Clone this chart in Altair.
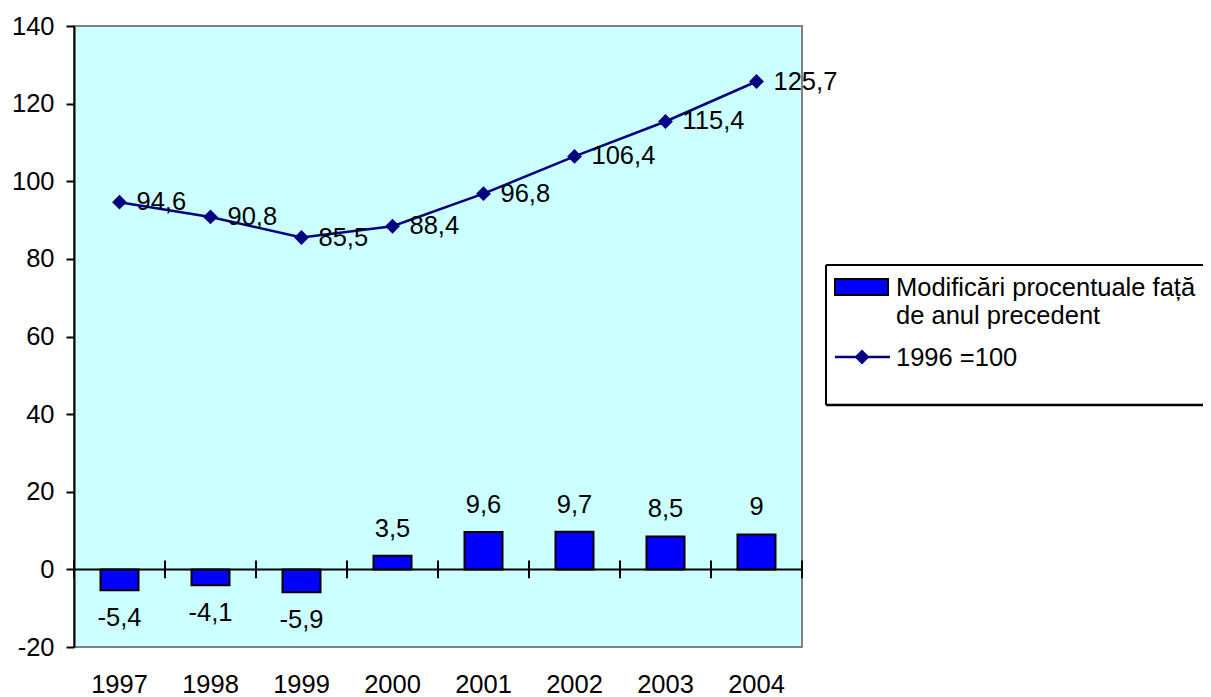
import altair as alt
import pandas as pd

# ---- data ----
years = ["1997", "1998", "1999", "2000", "2001", "2002", "2003", "2004"]
pct_change = [-5.4, -4.1, -5.9, 3.5, 9.6, 9.7, 8.5, 9.0]
index_1996 = [94.6, 90.8, 85.5, 88.4, 96.8, 106.4, 115.4, 125.7]
y_ticks = [-20, 0, 20, 40, 60, 80, 100, 120, 140]
legend_bar_lines = ["Modificări procentuale față", "de anul precedent"]
legend_line_label = "1996 =100"


def fmt(v):
    return f"{v:g}".replace(".", ",")


df = pd.DataFrame({"year": years, "pct": pct_change, "idx": index_1996})
df["pct_label"] = [fmt(v) for v in pct_change]
df["idx_label"] = [fmt(v) for v in index_1996]

W, H = 728, 621
FONT = "Liberation Sans"
FS = 25.5
NAVY = "#000080"
BLUE = "#0000FF"

x_scale = alt.Scale(paddingInner=0, paddingOuter=0)
y_scale = alt.Scale(domain=[-20, 140], nice=False, zero=False)

x_axis = alt.Axis(title=None, domain=False, ticks=False, tickSize=0, labelPadding=25,
                  labelFontSize=FS, labelFont=FONT, labelColor="black", labelAngle=0)
y_axis = alt.Axis(title=None, values=y_ticks, grid=False, domainColor="black", domainWidth=2,
                  tickColor="black", tickWidth=2, tickSize=8, labelPadding=12,
                  labelExpr="datum.value + ''",
                  labelFontSize=FS, labelFont=FONT, labelColor="black")

X = alt.X("year:N", scale=x_scale, axis=x_axis, sort=years)
base = alt.Chart(df)

bars = base.mark_bar(size=38, color=BLUE, stroke="black", strokeWidth=2).encode(
    x=X, y=alt.Y("pct:Q", scale=y_scale, axis=y_axis), y2=alt.datum(0)
)

zero_line = alt.Chart(pd.DataFrame({"v": [0]})).mark_rule(color="black", strokeWidth=2).encode(
    y=alt.Y("v:Q", scale=y_scale)
)

ticks = base.mark_rule(color="black", strokeWidth=2).encode(
    x=alt.X("year:N", sort=years, bandPosition=0),
    y=alt.datum(-2.3), y2=alt.datum(2.3)
)
end_tick = base.transform_filter(alt.datum.year == years[-1]).mark_rule(color="black", strokeWidth=2).encode(
    x=alt.X("year:N", sort=years, bandPosition=1),
    y=alt.datum(-2.3), y2=alt.datum(2.3)
)

line = base.mark_line(color=NAVY, strokeWidth=2.5).encode(x=X, y=alt.Y("idx:Q", scale=y_scale))
points = base.mark_point(shape="diamond", filled=True, size=220, color=NAVY, opacity=1).encode(
    x=X, y=alt.Y("idx:Q", scale=y_scale)
)
line_labels = base.mark_text(align="left", baseline="middle", dx=17, fontSize=FS, font=FONT,
                             color="black").encode(x=X, y=alt.Y("idx:Q", scale=y_scale), text="idx_label:N")

pos_labels = base.transform_filter(alt.datum.pct > 0).mark_text(
    align="center", baseline="alphabetic", dy=-19, fontSize=FS, font=FONT, color="black"
).encode(x=X, y=alt.Y("pct:Q", scale=y_scale), text="pct_label:N")
neg_labels = base.transform_filter(alt.datum.pct < 0).mark_text(
    align="center", baseline="alphabetic", dy=36, fontSize=FS, font=FONT, color="black"
).encode(x=X, y=alt.Y("pct:Q", scale=y_scale), text="pct_label:N")

# ---- legend (drawn manually; box runs off the right edge as in the reference) ----
one = alt.Chart(pd.DataFrame({"k": [0]}))
LX0, LX1, LY0, LY1 = 752, 1300, 239, 379
leg_fill = one.mark_rect(fill="white").encode(
    x=alt.value(LX0), x2=alt.value(LX1), y=alt.value(LY0), y2=alt.value(LY1)
)
leg_top = one.mark_rule(color="black", strokeWidth=2).encode(
    x=alt.value(LX0), x2=alt.value(LX1), y=alt.value(LY0)
)
leg_bottom = one.mark_rule(color="black", strokeWidth=2.5).encode(
    x=alt.value(LX0), x2=alt.value(LX1), y=alt.value(LY1)
)
leg_left = one.mark_rule(color="black", strokeWidth=2).encode(
    x=alt.value(LX0), y=alt.value(LY0), y2=alt.value(LY1)
)
leg_swatch = one.mark_rect(fill=BLUE, stroke="black", strokeWidth=2).encode(
    x=alt.value(761), x2=alt.value(814), y=alt.value(253), y2=alt.value(269)
)
leg_t1 = one.mark_text(text=legend_bar_lines[0], align="left", baseline="middle", fontSize=FS,
                       font=FONT, color="black").encode(x=alt.value(822), y=alt.value(262))
leg_t2 = one.mark_text(text=legend_bar_lines[1], align="left", baseline="middle", fontSize=FS,
                       font=FONT, color="black").encode(x=alt.value(822), y=alt.value(290))
leg_rule = one.mark_rule(color=NAVY, strokeWidth=2.5).encode(
    x=alt.value(761), x2=alt.value(816), y=alt.value(331)
)
leg_pt = one.mark_point(shape="diamond", filled=True, size=220, color=NAVY, opacity=1).encode(
    x=alt.value(788), y=alt.value(331)
)
leg_t3 = one.mark_text(text=legend_line_label, align="left", baseline="middle", fontSize=FS,
                       font=FONT, color="black").encode(x=alt.value(822), y=alt.value(332))

chart = alt.layer(
    bars, zero_line, ticks, end_tick, line, points, line_labels, pos_labels, neg_labels,
    leg_fill, leg_top, leg_bottom, leg_left, leg_swatch, leg_t1, leg_t2, leg_rule, leg_pt, leg_t3
).properties(
    width=W, height=H,
    padding={"left": 66, "top": 18, "right": 401, "bottom": 50},
    autosize=alt.AutoSizeParams(type="none"),
    background="white",
).configure_view(
    fill="#CCFFFF", stroke="#808080", strokeWidth=2
).configure_axis(grid=False)

chart.save("out.html", embed_options={"renderer": "svg", "actions": False})
